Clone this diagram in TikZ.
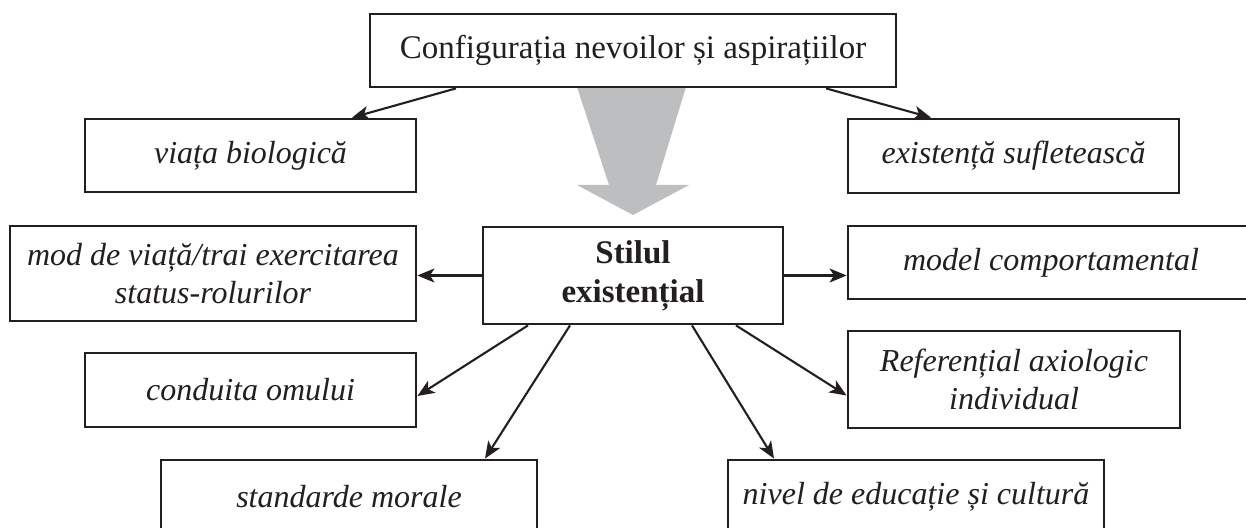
\documentclass[tikz,border=0pt]{standalone}
\usepackage{fontspec}
\setmainfont{Liberation Serif}
\usepackage{xcolor}
\usetikzlibrary{arrows.meta}
\definecolor{schemaInk}{HTML}{231F20}
\definecolor{schemaGrey}{HTML}{BCBEC0}

\begin{document}
\begin{tikzpicture}[x=0.5pt, y=-0.5pt, every node/.style={rectangle, draw=schemaInk, line width=1.4pt, fill=white, text=schemaInk, align=center, inner sep=0pt, font=\fontsize{16}{19}\selectfont\itshape}, link/.style={-{Stealth[length=8.5pt,width=7pt,inset=2.2pt]}, line width=1.05pt, schemaInk}]
\useasboundingbox (0,0) rectangle (1246,528);
\clip (0,0) rectangle (1246,528);

\fill[schemaGrey] (577,87) -- (609,185) -- (577,185) -- (633,215) -- (689,185) -- (656,185) -- (686,87) -- cycle;

\node[minimum width=263pt, minimum height=36.5pt, font=\fontsize{16.5}{19}\selectfont] (config) at (633,50.5) {Configurația nevoilor și aspirațiilor};
\node[minimum width=165.5pt, minimum height=36.5pt] (viata) at (250.5,155.5) {viața biologică};
\node[minimum width=165.5pt, minimum height=37pt] (suflet) at (1013.5,156) {existență sufletească};
\node[minimum width=150pt, minimum height=48.5pt, font=\fontsize{16.5}{19.5}\selectfont\bfseries] (stil) at (633,275.5) {Stilul\\existențial};
\node[minimum width=203pt, minimum height=47.5pt] (mod) at (213,273.5) {mod de viață/trai exercitarea\\status-rolurilor};
\node[minimum width=203pt, minimum height=36.5pt] (model) at (1051,262.5) {model comportamental};
\node[minimum width=165.5pt, minimum height=37pt] (conduita) at (250.5,390) {conduita omului};
\node[minimum width=166pt, minimum height=48.5pt] (referential) at (1014,379.5) {Referențial axiologic\\individual};
\node[minimum width=188pt, minimum height=37pt] (standarde) at (349,497) {standarde morale};
\node[minimum width=188pt, minimum height=37pt] (nivel) at (916,497) {nivel de educație și cultură};

\draw[link] ([xshift=-88.5pt]config.south) -- ([xshift=50.75pt]viata.north);
\draw[link] ([xshift=96.5pt]config.south) -- ([xshift=-41.25pt]suflet.north);
\draw[link] (stil.west) -- (stil.west -| mod.east);
\draw[link] (stil.east) -- (stil.east -| model.west);
\draw[link] ([xshift=-52.5pt]stil.south) -- ([yshift=-3pt]conduita.east);
\draw[link] ([xshift=51.5pt]stil.south) -- ([yshift=-8pt]referential.west);
\draw[link] ([xshift=-31.5pt]stil.south) -- ([xshift=68pt]standarde.north);
\draw[link] ([xshift=29.5pt]stil.south) -- ([xshift=-71pt]nivel.north);
\end{tikzpicture}
\end{document}
